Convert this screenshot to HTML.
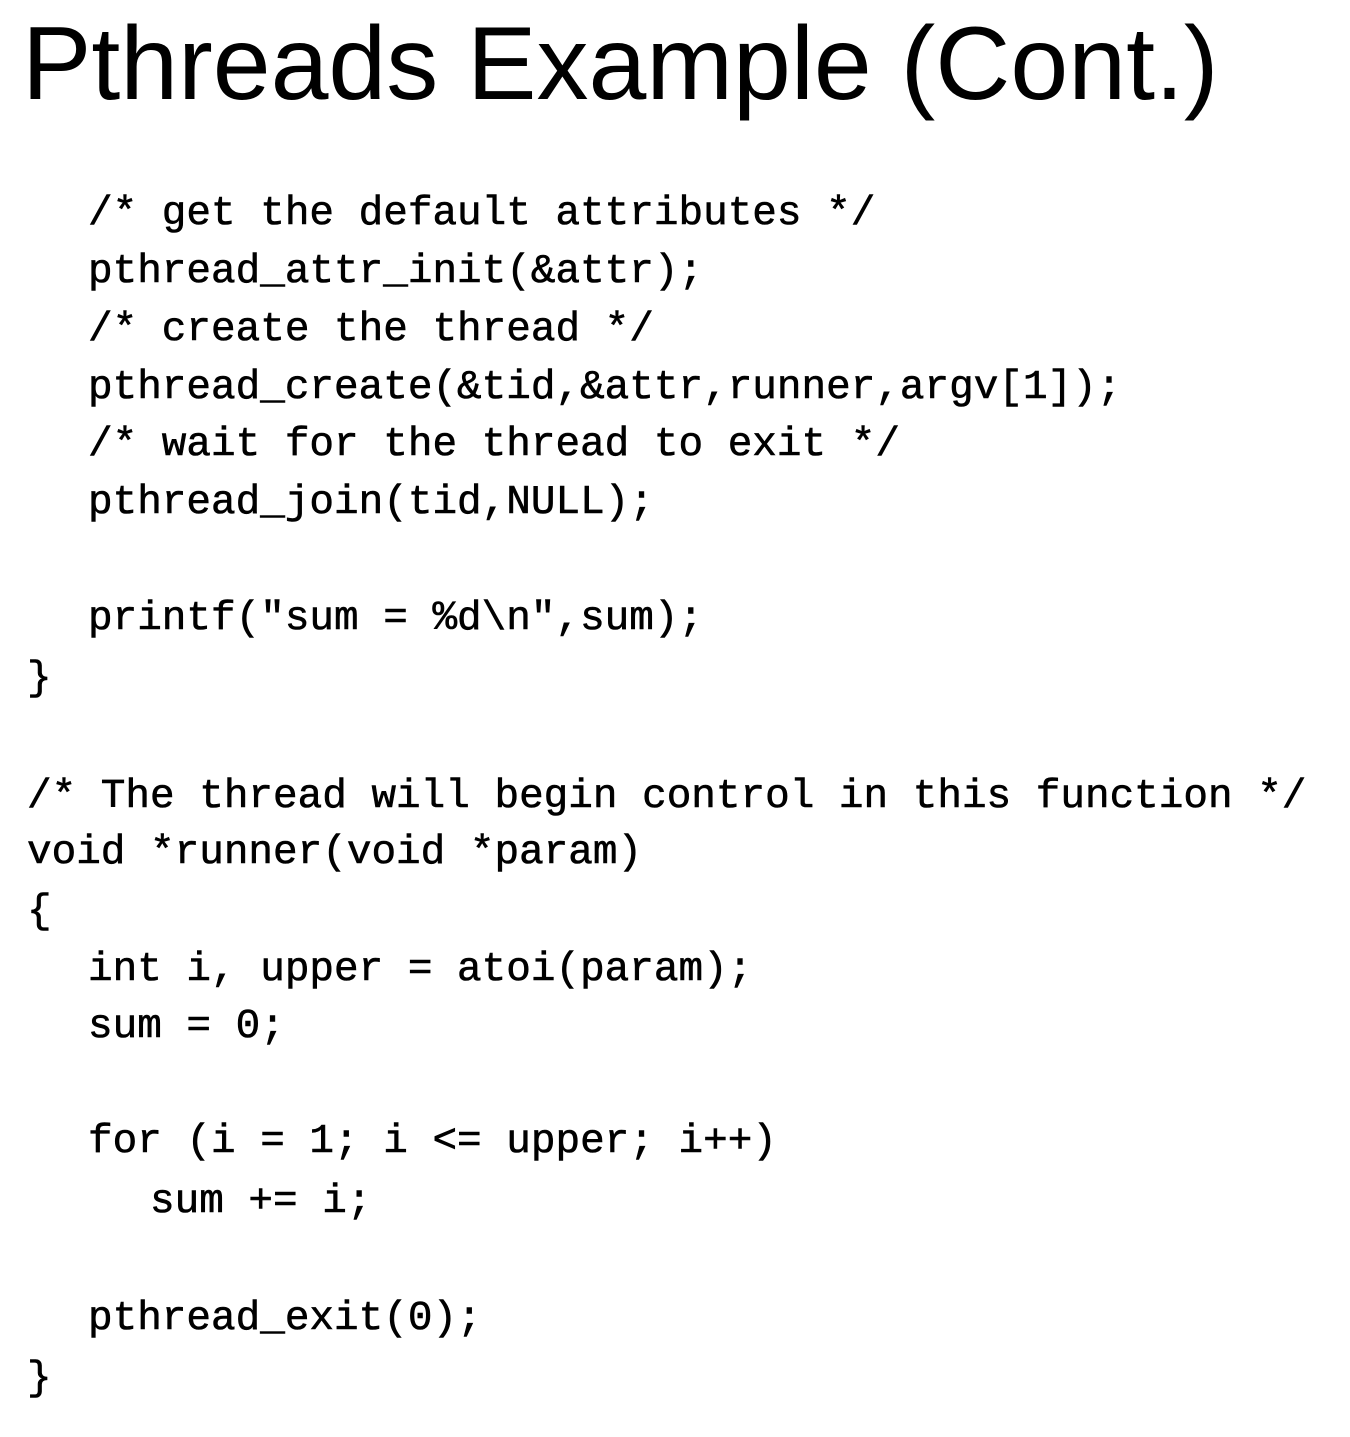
<!DOCTYPE html>
<html><head><meta charset="utf-8"><style>
html,body{margin:0;padding:0;background:#fff;}
body{width:1350px;height:1437px;position:relative;overflow:hidden;}
.t{position:absolute;left:22px;top:4px;font-family:"Liberation Sans",sans-serif;font-size:104px;line-height:120px;color:#000;white-space:nowrap;transform-origin:0 0;transform:scaleX(1.0);}
.c{position:absolute;font-family:"Liberation Mono",monospace;font-size:41px;line-height:58px;color:#000;white-space:pre;-webkit-text-stroke:0.6px #000;}
</style></head><body>
<div class="t">Pthreads Example (Cont.)</div>
<div class="c" style="left:88px;top:185px">/* get the default attributes */</div>
<div class="c" style="left:88px;top:243px">pthread_attr_init(&amp;attr);</div>
<div class="c" style="left:88px;top:301px">/* create the thread */</div>
<div class="c" style="left:88px;top:359px">pthread_create(&amp;tid,&amp;attr,runner,argv[1]);</div>
<div class="c" style="left:88px;top:416px">/* wait for the thread to exit */</div>
<div class="c" style="left:88px;top:474px">pthread_join(tid,NULL);</div>
<div class="c" style="left:88px;top:590px">printf("sum = %d\n",sum);</div>
<div class="c" style="left:27px;top:650px">}</div>
<div class="c" style="left:27px;top:768px">/* The thread will begin control in this function */</div>
<div class="c" style="left:27px;top:824px">void *runner(void *param)</div>
<div class="c" style="left:27px;top:883px">{</div>
<div class="c" style="left:88px;top:941px">int i, upper = atoi(param);</div>
<div class="c" style="left:88px;top:998px">sum = 0;</div>
<div class="c" style="left:88px;top:1113px">for (i = 1; i &lt;= upper; i++)</div>
<div class="c" style="left:150px;top:1173px">sum += i;</div>
<div class="c" style="left:88px;top:1290px">pthread_exit(0);</div>
<div class="c" style="left:27px;top:1350px">}</div>
</body></html>
